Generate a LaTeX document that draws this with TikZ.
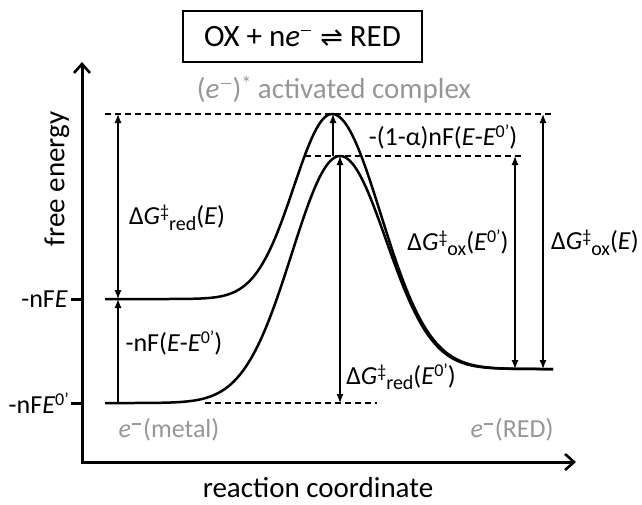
\documentclass[tikz,border=0pt]{standalone}
\usepackage{fontspec}
\setmainfont{Carlito}
\newfontfamily\symfont{DejaVu Sans}
\usetikzlibrary{arrows.meta}
\definecolor{lblgray}{RGB}{150,150,150}
\newcommand{\dG}[2]{Δ\textit{G}\raisebox{0.55ex}{\fontsize{18}{18}\selectfont ‡}\raisebox{-0.45ex}{\fontsize{20}{20}\selectfont #1}(#2)}
\newcommand{\Ezp}{\textit{E}\raisebox{0.6ex}{\fontsize{18}{18}\selectfont 0’}}
\newcommand{\smin}[1]{\kern1pt\raisebox{1.05ex}{\rule{#1}{1.4pt}}\kern2pt}
\begin{document}
\begin{tikzpicture}[x=1pt,y=-1pt,
  axis/.style={line width=3pt,-{Straight Barb[length=9pt,width=16pt,line width=2.6pt]}},
  curve/.style={line width=2.5pt},
  dim/.style={line width=1.2pt},
  tipboth/.style={dim,{Latex[length=9pt,width=7pt]}-{Latex[length=9pt,width=7pt]}},
  tipend/.style={dim,-{Latex[length=9pt,width=7pt]}},
  guide/.style={line width=1.1pt,dash pattern=on 6pt off 4pt},
  lbl/.style={font=\fontsize{26}{30}\selectfont,inner sep=0pt},
  big/.style={font=\fontsize{29}{34}\selectfont,inner sep=0pt},
  gray/.style={text=lblgray}]
\useasboundingbox (0,0) rectangle (642,504);
% axes
\coordinate (O) at (82,462);
\coordinate (ytop) at (82,62);
\coordinate (xend) at (576,462);
\draw[axis] (O) -- (ytop);
\draw[axis] ([xshift=-1.5pt]O) -- (xend);
% ticks
\coordinate (tE1) at (71,299); \coordinate (tE2) at (83,299);
\coordinate (tF1) at (71,403); \coordinate (tF2) at (83,403);
\draw[line width=3pt] (tE1) -- (tE2);
\draw[line width=3pt] (tF1) -- (tF2);
% guides
\coordinate (g1a) at (105,114); \coordinate (g1b) at (553,114);
\coordinate (g2a) at (305,156); \coordinate (g2b) at (521,156);
\coordinate (g3a) at (205,403); \coordinate (g3b) at (377,403);
\draw[guide] (g1a) -- (g1b);
\draw[guide] (g2a) -- (g2b);
\draw[guide] (g3a) -- (g3b);
% curves
\draw[curve] plot[domain=105:332,samples=90] (\x,{299-185*exp(-((\x-332)/54)*((\x-332)/54))})
  -- plot[domain=332:553,samples=90] (\x,{369-255*exp(-((\x-332)/69)*((\x-332)/69))});
\draw[curve] plot[domain=105:340,samples=90] (\x,{403-247*exp(-((\x-340)/68)*((\x-340)/68))})
  -- plot[domain=340:553,samples=90] (\x,{369-213*exp(-((\x-340)/65)*((\x-340)/65))});
% dimension arrows
\coordinate (a1t) at (118,114); \coordinate (a1b) at (118,299);
\coordinate (a2t) at (118,299); \coordinate (a2b) at (118,403);
\coordinate (a3t) at (333,114); \coordinate (a3b) at (333,156);
\coordinate (a4t) at (340,156); \coordinate (a4b) at (340,403);
\coordinate (a5t) at (515,156); \coordinate (a5b) at (515,369);
\coordinate (a6t) at (543,114); \coordinate (a6b) at (543,369);
\draw[tipboth] (a1t) -- (a1b);
\draw[tipend] (a2b) -- (a2t);
\draw[tipend] (a3b) -- (a3t);
\draw[tipboth] (a4t) -- (a4b);
\draw[tipboth] (a5t) -- (a5b);
\draw[tipboth] (a6t) -- (a6b);
% title
\node[draw,line width=1.2pt,minimum width=239pt,minimum height=51pt,inner sep=0pt] (title) at (302.5,36.5) {};
\node[font=\fontsize{31}{36}\selectfont,inner sep=0pt] (ttext) at (title.center)
  {OX + n\textit{e}\smin{10pt}\hspace{7pt}{\symfont\fontsize{27}{30}\selectfont ⇌}\hspace{7pt}RED};
\node[big,gray] (act) at (334,90) {(\textit{e}\smin{10pt})\raisebox{0.6ex}{\fontsize{20}{20}\selectfont *} activated complex};
% axis labels
\node[big,rotate=90] (ylab) at (57,179) {free energy};
\node[big,anchor=base] (xlab) at (318,497) {reaction coordinate};
\node[lbl,anchor=east] (lE) at (68,299) {-nF\textit{E}};
\node[lbl,anchor=east] (lE0) at (69,403) {-nF\Ezp};
% labels
\node[lbl] (l1) at (177,218) {\dG{red}{\textit{E}}};
\node[lbl] (l2) at (174,343) {-nF(\textit{E}-\Ezp)};
\node[lbl] (l3) at (443,137) {-(1-α)nF(\textit{E}-\Ezp)};
\node[lbl] (l4) at (458,243) {\dG{ox}{\Ezp}};
\node[lbl] (l5) at (595,243) {\dG{ox}{\textit{E}}};
\node[lbl] (l6) at (401,377) {\dG{red}{\Ezp}};
\node[lbl,gray] (m1) at (169,430) {\textit{e}\smin{9pt}(metal)};
\node[lbl,gray] (m2) at (512,430) {\textit{e}\smin{9pt}(RED)};
\end{tikzpicture}
\end{document}
